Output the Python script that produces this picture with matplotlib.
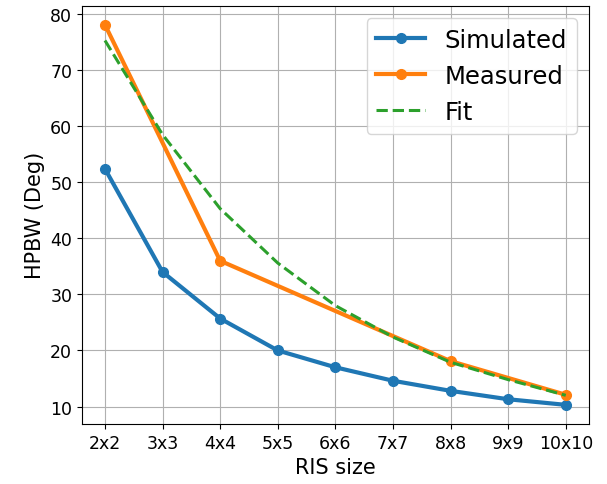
import numpy as np
import matplotlib.pyplot as plt

ris_sizes = ['2x2', '3x3', '4x4', '5x5', '6x6', '7x7', '8x8', '9x9', '10x10']
simulated = [52.4, 34.0, 25.7, 20.0, 17.0, 14.6, 12.8, 11.3, 10.3]
measured_idx = [0, 2, 6, 8]
measured = [78.1, 36.0, 18.1, 12.1]
fit = [75.3, 58.5, 45.3, 35.6, 28.0, 22.4, 17.9, 14.8, 12.0]

fig = plt.figure(figsize=(6.07, 4.85), dpi=100)
axes = fig.add_axes([0.135, 0.124, 0.835, 0.862])

x = np.arange(len(ris_sizes))
axes.plot(x, simulated, '-o', lw=3, ms=7, color='#1f77b4', label='Simulated')
axes.plot(x[measured_idx], measured, '-o', lw=3, ms=7, color='#ff7f0e',
          label='Measured')
axes.plot(x, fit, '--', lw=2.2, color='#2ca02c', label='Fit')

axes.set_xticks(x)
axes.set_xticklabels(ris_sizes)
axes.tick_params(labelsize=12.5)
axes.set_xlabel('RIS size', fontsize=15)
axes.set_ylabel('HPBW (Deg)', fontsize=15)
axes.grid(True)
axes.legend(loc='upper right', fontsize=17.5)

plt.savefig('out.png', dpi=100)
plt.close(fig)
